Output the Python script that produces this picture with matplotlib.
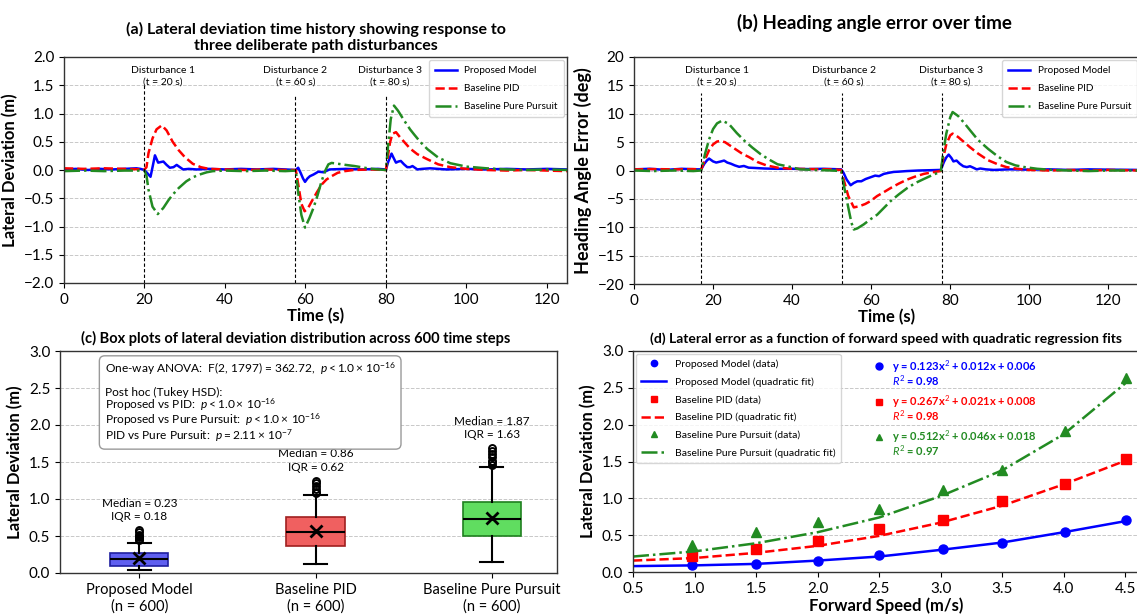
import numpy as np
import matplotlib
matplotlib.use('Agg')
import matplotlib.pyplot as plt

plt.rcParams['font.family'] = ['Lato', 'DejaVu Sans']
plt.rcParams['mathtext.fontset'] = 'custom'
plt.rcParams['mathtext.rm'] = 'Lato'
plt.rcParams['mathtext.it'] = 'Lato:italic'
plt.rcParams['mathtext.bf'] = 'Lato:bold'

# ---- (a) lateral deviation time history (m) ----
t_prop_a = [0, 3, 6, 9, 12, 15, 18, 19, 20, 21, 21.5, 22, 22.6, 23.4, 24, 24.7, 25.5, 26.3, 27.2, 28,
            28.8, 29.6, 31, 33, 36, 40, 44, 48, 52, 55, 57.6, 58.2, 58.8, 59.4, 59.9, 60.5, 61.1, 62, 63.2, 64.5,
            66, 70, 74, 78, 80, 80.6, 81.4, 82, 82.5, 83.1, 83.7, 84.5, 85.3, 86, 86.6, 87.2, 87.8, 89, 91, 95,
            100, 105, 110, 115, 120, 125]
y_prop_a = [0.01, 0.02, 0.0, 0.02, 0.01, 0.02, 0.03, 0.02, 0.0, -0.08, -0.12, 0.05, 0.26, 0.13, 0.14, 0.15, 0.09, 0.04, 0.05, 0.09,
            0.05, 0.01, 0.02, 0.01, 0.02, 0.01, 0.02, 0.01, 0.02, 0.01, 0.0, 0.04, -0.05, -0.15, -0.21, -0.15, -0.11, -0.08, -0.03, -0.04,
            0.01, 0.02, 0.01, 0.02, 0.01, 0.15, 0.29, 0.2, 0.13, 0.15, 0.16, 0.1, 0.05, 0.05, 0.07, 0.04, 0.01, 0.02, 0.03, 0.01,
            0.02, 0.01, 0.02, 0.01, 0.02, 0.01]

t_pid_a = [0, 5, 10, 15, 20, 20.5, 21, 22, 23, 24.3, 25.5, 27, 28.5, 30, 32, 34, 36, 40, 45, 50,
           55, 57.6, 58.2, 59, 59.8, 60.6, 61.6, 62.8, 64, 65.2, 66.5, 68, 69.8, 72, 76, 80, 80.5, 81, 81.6, 82.5,
           83.5, 84.5, 86, 87.8, 90.3, 93, 96, 100, 105, 110, 115, 120, 125]
y_pid_a = [0.03, 0.02, 0.03, 0.02, 0.01, 0.05, 0.3, 0.56, 0.72, 0.79, 0.7, 0.5, 0.35, 0.23, 0.11, 0.05, 0.02, 0.01, 0.0, 0.01,
           0.0, 0.0, -0.25, -0.6, -0.73, -0.68, -0.55, -0.4, -0.26, -0.17, -0.11, -0.05, -0.02, 0.0, 0.01, 0.0, 0.25, 0.48, 0.64, 0.67,
           0.58, 0.5, 0.38, 0.28, 0.19, 0.1, 0.05, 0.02, 0.0, -0.01, 0.0, -0.01, -0.02]

t_pp_a = [0, 5, 10, 15, 20, 20.5, 21, 22, 23.3, 24.7, 26, 27.1, 28.5, 30.4, 32, 33.7, 35.5, 37, 40, 45,
          50, 55, 57.6, 58.2, 59, 59.9, 61, 62, 63, 64, 65, 65.7, 66.5, 68.1, 70, 72.2, 75.5, 78, 80, 80.5,
          81.2, 82, 83, 84.5, 86, 87, 88.5, 90.3, 93, 96, 100, 105, 110, 115, 120, 125]
y_pp_a = [-0.02, -0.01, -0.02, -0.01, -0.01, -0.1, -0.35, -0.65, -0.78, -0.67, -0.53, -0.43, -0.32, -0.2, -0.13, -0.08, -0.04, -0.02, -0.01, -0.02,
          -0.01, -0.02, -0.01, -0.4, -0.8, -1.02, -0.85, -0.67, -0.45, -0.2, 0.0, 0.1, 0.125, 0.11, 0.09, 0.07, 0.03, 0.01, 0.0, 0.4,
          0.9, 1.14, 1.05, 0.88, 0.72, 0.63, 0.5, 0.37, 0.22, 0.12, 0.06, 0.03, 0.01, 0.0, 0.01, 0.0]

# ---- (b) heading angle error (deg) ----
t_prop_b = [0, 4, 8, 12, 16, 17, 17.8, 18.5, 19, 20, 20.8, 22, 22.8, 23.6, 24.5, 25.5, 26.6, 27.8, 29, 30.5,
            33, 36, 40, 44, 48, 52.4, 53, 53.8, 54.8, 55.6, 56.5, 57.5, 58.6, 59.8, 61, 62, 63.2, 64.5, 65.7, 67,
            69, 72, 75, 77.6, 78.4, 79, 79.6, 80.3, 80.8, 81.6, 82.4, 83.3, 84.2, 85, 85.8, 86.7, 87.6, 89, 91, 95,
            100, 105, 110, 115, 120, 128]
y_prop_b = [0.2, 0.3, 0.1, 0.3, 0.2, 0.2, 1.2, 1.8, 2.1, 1.6, 1.4, 1.6, 1.75, 1.4, 1.2, 0.9, 0.65, 0.8, 0.5, 0.45,
            0.35, 0.3, 0.3, 0.25, 0.3, 0.2, -0.4, -1.6, -2.6, -2.2, -1.9, -1.9, -1.5, -1.2, -0.9, -1.0, -0.6, -0.4, -0.25, -0.2,
            -0.1, 0.0, 0.05, 0.1, 1.5, 2.3, 2.8, 2.2, 1.6, 1.75, 1.2, 0.75, 0.6, 0.75, 0.5, 0.2, 0.35, 0.2, 0.1, 0.2,
            0.15, 0.2, 0.1, 0.2, 0.15, 0.1]

t_pid_b = [0, 5, 10, 15, 17, 18, 19, 20, 21, 21.7, 23, 24.5, 26, 27.5, 29, 31.2, 33.5, 36.3, 40, 45,
           50, 52.4, 53.2, 54.2, 55.6, 57, 58.5, 59.8, 61.5, 63, 64.9, 67, 69.1, 71, 73.3, 75.5, 77.6, 78.3, 79, 80,
           80.6, 82, 83.5, 85, 87, 89.6, 92, 94.2, 97, 100, 105, 110, 115, 120, 128]
y_pid_b = [0.2, 0.25, 0.2, 0.25, 0.2, 2.0, 3.6, 4.6, 5.1, 5.2, 5.0, 4.3, 3.6, 2.9, 2.4, 1.5, 0.9, 0.5, 0.3, 0.25,
           0.2, 0.1, -2.0, -4.5, -6.5, -6.3, -5.9, -5.4, -4.5, -3.9, -3.1, -2.3, -1.6, -1.1, -0.6, -0.3, -0.1, 2.5, 4.6, 6.2,
           6.5, 5.9, 5.0, 4.1, 3.0, 1.8, 1.1, 0.6, 0.3, 0.1, 0.0, 0.1, 0.0, 0.1, 0.0]

t_pp_b = [0, 5, 10, 15, 17, 18, 19, 20, 21, 22.3, 24, 26, 28, 30, 32, 34, 36.3, 39.7, 42, 46,
          50, 52.4, 53.2, 54.2, 55, 55.6, 56.5, 58.1, 59.8, 61.5, 63.2, 64.9, 67, 69.1, 71.2, 73.3, 75.5, 77.6, 78.3, 79,
          80, 80.6, 82, 83.5, 85, 87, 89.6, 92, 94.2, 96.5, 98.8, 102, 106, 110, 115, 120, 128]
y_pp_b = [0.0, -0.1, 0.0, -0.1, 0.0, 3.0, 5.5, 7.3, 8.3, 8.8, 8.2, 6.6, 5.2, 4.0, 2.9, 2.0, 1.1, 0.6, 0.2, 0.1,
          0.0, -0.1, -3.0, -6.5, -9.2, -10.4, -10.2, -9.5, -8.6, -7.8, -6.6, -5.4, -4.2, -3.1, -2.2, -1.5, -0.8, -0.2, 3.5, 6.5,
          9.4, 10.3, 9.6, 8.4, 7.1, 5.4, 3.8, 2.5, 1.5, 0.9, 0.6, 0.3, 0.1, 0.0, -0.1, 0.0, 0.0]

dist_labels = ['Disturbance 1\n(t = 20 s)', 'Disturbance 2\n(t = 60 s)', 'Disturbance 3\n(t = 80 s)']
dist_t_a = [20, 57.5, 80]
dist_t_b = [17, 52.5, 77.8]

# ---- (c) box plot summary of lateral deviation ----
box_names = ['Proposed Model\n(n = 600)', 'Baseline PID\n(n = 600)', 'Baseline Pure Pursuit\n(n = 600)']
box_q1 = [0.10, 0.37, 0.50]
box_med = [0.185, 0.55, 0.73]
box_q3 = [0.275, 0.76, 0.955]
box_lo = [0.045, 0.12, 0.15]
box_hi = [0.41, 1.06, 1.43]
box_mean = [0.20, 0.57, 0.75]
box_fliers = [[0.44, 0.46, 0.48, 0.50, 0.52, 0.55, 0.58],
              [1.08, 1.10, 1.13, 1.18, 1.21, 1.25],
              [1.46, 1.50, 1.52, 1.57, 1.61, 1.65, 1.69]]
box_median_txt = ['0.23', '0.86', '1.87']
box_iqr_txt = ['0.18', '0.62', '1.63']

# ---- (d) lateral error vs forward speed ----
speed = [0.98, 1.5, 2.0, 2.5, 3.02, 3.5, 4.01, 4.51]
err_prop = [0.09, 0.11, 0.155, 0.235, 0.31, 0.40, 0.545, 0.70]
err_pid = [0.22, 0.31, 0.42, 0.585, 0.71, 0.96, 1.20, 1.54]
err_pp = [0.37, 0.54, 0.675, 0.86, 1.11, 1.38, 1.91, 2.64]
# fitted curves as drawn in the figure
fit_speed = [0.5, 1.0, 1.5, 2.0, 2.5, 3.0, 3.5, 4.0, 4.5]
fit_prop = [0.08, 0.09, 0.11, 0.155, 0.21, 0.30, 0.40, 0.54, 0.69]
fit_pid = [0.155, 0.19, 0.26, 0.355, 0.49, 0.67, 0.90, 1.19, 1.51]
fit_pp = [0.21, 0.28, 0.39, 0.54, 0.74, 1.03, 1.38, 1.87, 2.56]
fit_txt = ['y = 0.123x$^2$ + 0.012x + 0.006', 'y = 0.267x$^2$ + 0.021x + 0.008', 'y = 0.512x$^2$ + 0.046x + 0.018']
r2_txt = ['0.98', '0.98', '0.97']

names = ['Proposed Model', 'Baseline PID', 'Baseline Pure Pursuit']
colors = ['blue', 'red', 'forestgreen']
styles = ['-', '--', '-.']

W, H = 1137, 614
fig = plt.figure(figsize=(W / 100, H / 100), dpi=100)

def px_axes(x0, y0, x1, y1): #axes from pixel box (left, top, right, bottom)
    return fig.add_axes([x0 / W, 1 - y1 / H, (x1 - x0) / W, (y1 - y0) / H])

def style_axes(ax):
    ax.grid(axis='y', color='#c8c8c8', linestyle='--', linewidth=0.7)
    ax.set_axisbelow(True)
    ax.tick_params(labelsize=11, length=3.5)
    for s in ax.spines.values():
        s.set_linewidth(1.0)
        s.set_color('#333333')

ax_a = px_axes(64, 57, 567, 283)
ax_b = px_axes(634, 57, 1140, 284)
ax_c = px_axes(60, 351, 557, 573)
ax_d = px_axes(633, 351, 1140, 572)

# (a) and (b) time histories
series_a = [(t_prop_a, y_prop_a), (t_pid_a, y_pid_a), (t_pp_a, y_pp_a)]
series_b = [(t_prop_b, y_prop_b), (t_pid_b, y_pid_b), (t_pp_b, y_pp_b)]
for ax, series, dts, txt_x, ymaxes, ytxt in [
        (ax_a, series_a, dist_t_a, [24.5, 57.5, 81], [0.88, 0.83, 0.83], 1.66),
        (ax_b, series_b, dist_t_b, [21, 53, 80.2], [0.84, 0.84, 0.84], 16.6)]:
    for (t, y), n, c, ls in zip(series, names, colors, styles):
        ax.plot(t, y, color=c, linestyle=ls, linewidth=1.8, label=n)
    for dt, tx, ym, lab in zip(dts, txt_x, ymaxes, dist_labels):
        ax.axvline(dt, ymax=ym, color='black', linestyle=(0, (3, 2)), linewidth=0.8)
        ax.text(tx, ytxt, lab, ha='center', va='center', fontsize=7.5, linespacing=1.4)
    style_axes(ax)
    ax.set_xticks(range(0, 121, 20))
    ax.set_xlabel('Time (s)', fontsize=12, fontweight='bold', labelpad=1)
    ax.legend(loc='upper right', fontsize=7.2, handlelength=2.2, borderpad=0.6, labelspacing=0.9,
              borderaxespad=0.3)

ax_a.set_xlim(0, 125)
ax_a.set_ylim(-2, 2)
ax_a.set_yticks(np.arange(-2, 2.01, 0.5))
ax_a.set_ylabel('Lateral Deviation (m)', fontsize=12, fontweight='bold')
ax_a.set_title('(a) Lateral deviation time history showing response to\nthree deliberate path disturbances',
               fontsize=11.5, fontweight='bold', pad=5, linespacing=1.15)

ax_b.set_xlim(0, 128)
ax_b.set_ylim(-20, 20)
ax_b.set_yticks(range(-20, 21, 5))
ax_b.set_ylabel('Heading Angle Error (deg)', fontsize=13, fontweight='bold')
ax_b.text(0.476, 1.15, '(b) Heading angle error over time', transform=ax_b.transAxes,
          ha='center', va='center', fontsize=13.5, fontweight='bold')

# (c) box plots
stats = []
for i in range(3):
    stats.append(dict(med=box_med[i], q1=box_q1[i], q3=box_q3[i], whislo=box_lo[i], whishi=box_hi[i],
                      mean=box_mean[i], fliers=box_fliers[i], label=box_names[i]))
bp = ax_c.bxp(stats, positions=[1, 2, 3], widths=0.33, capwidths=0.13, patch_artist=True, showmeans=True,
              meanprops=dict(marker='x', markeredgecolor='black', markersize=8, markeredgewidth=2),
              medianprops=dict(color='black', linewidth=1.5),
              whiskerprops=dict(color='black', linewidth=1.5),
              capprops=dict(color='black', linewidth=1.5),
              flierprops=dict(marker='o', markerfacecolor='none', markeredgecolor='black', markersize=5, markeredgewidth=1.4))
for patch, fc, ec in zip(bp['boxes'], ['#6060f0', '#f06060', '#60dd60'], ['#2020a0', '#a02020', '#208020']):
    patch.set_facecolor(fc)
    patch.set_edgecolor(ec)
    patch.set_linewidth(1.2)
for i in range(3):
    ax_c.text(i + 1, max(box_fliers[i]) + 0.27, 'Median = %s\nIQR = %s' % (box_median_txt[i], box_iqr_txt[i]),
              ha='center', va='center', fontsize=8.5, linespacing=1.25)
style_axes(ax_c)
ax_c.set_xlim(0.55, 3.37)
ax_c.set_ylim(0, 3)
ax_c.set_yticks(np.arange(0, 3.01, 0.5))
ax_c.tick_params(axis='x', labelsize=10.5)
ax_c.set_ylabel('Lateral Deviation (m)', fontsize=12, fontweight='bold')
ax_c.set_title('(c) Box plots of lateral deviation distribution across 600 time steps',
               fontsize=10.5, fontweight='bold', pad=6, x=0.475)
anova = ('One-way ANOVA:  F(2, 1797) = 362.72,  $p < 1.0\\times\\,10^{-16}$\n\n'
         'Post hoc (Tukey HSD):\n'
         'Proposed vs PID:  $p < 1.0\\times\\,10^{-16}$\n'
         'Proposed vs Pure Pursuit:  $p < 1.0\\times\\,10^{-16}$\n'
         'PID vs Pure Pursuit:  $p = 2.11\\times\\,10^{-7}$')
ax_c.text(0.09, 0.955, anova, transform=ax_c.transAxes, ha='left', va='top', fontsize=8.6, linespacing=0.9,
          bbox=dict(boxstyle='round,pad=0.45', facecolor='white', edgecolor='#999999', linewidth=1.0))

# (d) speed sweep with quadratic fits
for y, fy, n, c, ls, mk in zip([err_prop, err_pid, err_pp], [fit_prop, fit_pid, fit_pp], names, colors, styles,
                               ['o', 's', '^']):
    ax_d.plot(speed, y, mk, color=c, markersize=6.5, label=n + ' (data)')
    ax_d.plot(fit_speed, fy, color=c, linestyle=ls, linewidth=1.8, label=n + ' (quadratic fit)')
for i, (c, mk) in enumerate(zip(colors, ['o', 's', '^'])):
    y0 = 0.93 - 0.16 * i
    ax_d.plot([0.485], [y0], mk, color=c, markersize=5, transform=ax_d.transAxes)
    ax_d.text(0.51, y0, fit_txt[i], transform=ax_d.transAxes, color=c, fontsize=8, fontweight='bold', va='center')
    ax_d.text(0.51, y0 - 0.063, '$R^2$ = ' + r2_txt[i], transform=ax_d.transAxes, color=c, fontsize=8,
              fontweight='bold', va='center')
style_axes(ax_d)
ax_d.set_xlim(0.5, 4.62)
ax_d.set_ylim(0, 3)
ax_d.set_xticks(np.arange(0.5, 4.51, 0.5))
ax_d.set_yticks(np.arange(0, 3.01, 0.5))
ax_d.set_xlabel('Forward Speed (m/s)', fontsize=12, fontweight='bold', labelpad=1)
ax_d.set_ylabel('Lateral Deviation (m)', fontsize=12, fontweight='bold')
ax_d.set_title('(d) Lateral error as a function of forward speed with quadratic regression fits',
               fontsize=10, fontweight='bold', pad=6)
ax_d.legend(loc='upper left', fontsize=7.5, handlelength=2.4, markerscale=0.7, labelspacing=0.8, borderpad=0.5,
            borderaxespad=0.3)

fig.savefig('out.png', dpi=100)
